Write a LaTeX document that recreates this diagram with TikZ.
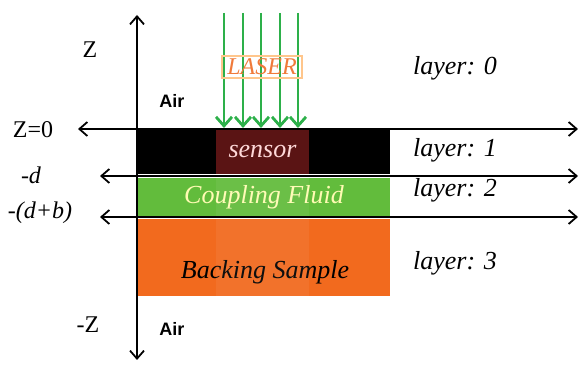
\documentclass[tikz,border=0pt]{standalone}
\usepackage{fontspec}
\setmainfont{Liberation Serif}
\setsansfont{Liberation Sans}
\usetikzlibrary{arrows.meta,positioning}
\definecolor{sensorred}{HTML}{5A1414}
\definecolor{fluidgreen}{HTML}{62BC3C}
\definecolor{backorange}{HTML}{F26A1E}
\definecolor{laseror}{HTML}{F07A3A}
\definecolor{laserbeam}{HTML}{2DB04A}

\begin{document}
\begin{tikzpicture}[x=0.5pt,y=-0.5pt,>={Straight Barb[length=4pt,width=7pt]},
  slab/.style={inner sep=0pt,minimum width=126pt,font=\fontsize{13}{15}\selectfont\itshape},
  axis/.style={line width=0.9pt,<->},
  zlabel/.style={font=\fontsize{12}{14}\selectfont},
  layerlabel/.style={font=\fontsize{13}{15}\selectfont\itshape},
  airlabel/.style={font=\sffamily\bfseries\fontsize{9}{11}\selectfont},
  beam/.style={line width=1.4pt,draw=laserbeam,-{Straight Barb[length=4.5pt,width=8pt]}}]
\useasboundingbox (0,0) rectangle (579,367);

% layers
\node[slab,fill=black,minimum height=22pt] (lay1) at (264,152) {};
\node[slab,fill=fluidgreen,minimum height=19pt,text=yellow!30] (lay2) at (264,197) {Coupling Fluid};
\node[slab,fill=backorange,minimum height=38.5pt] (lay3) at (264,257.5) {};
\node[font=\fontsize{13}{15}\selectfont\itshape] (backtxt) at (265,272) {Backing Sample};
\node[inner sep=0pt,fill=sensorred,minimum width=46.5pt,minimum height=22pt,text=red!15,font=\fontsize{13}{15}\selectfont\itshape] (sensor) at (262.5,152) {sensor};
\fill[white,opacity=0.06] (sensor.south west) rectangle (lay3.south -| sensor.east);

% axes
\coordinate (ztop) at (137,15);
\coordinate (zbot) at (137,360);
\coordinate (z0l) at (78,129);
\coordinate (z0r) at (578,129);
\coordinate (dl) at (100,176);
\coordinate (dr) at (578,176);
\coordinate (dbl) at (100,217);
\coordinate (dbr) at (578,217);
\draw[axis] (ztop) -- (zbot);
\draw[axis] (z0l) -- (z0r);
\draw[axis] (dl) -- (dr);
\draw[axis] (dbl) -- (dbr);

% laser
\foreach \i/\x in {1/224,2/243,3/261,4/280,5/298}{
  \coordinate (b\i top) at (\x,13);
  \coordinate (b\i bot) at (\x,128);
  \draw[beam] (b\i top) -- (b\i bot);
}
\node[draw=orange!45,line width=0.6pt,minimum width=40pt,minimum height=11pt,inner sep=0pt,text=laseror,font=\fontsize{12}{14}\selectfont\itshape] (laser) at (262,67) {LASER};

% labels
\node[zlabel] (zup) at (90,50) {Z};
\node[zlabel] (zzero) at (33,130) {Z=0};
\node[zlabel,font=\fontsize{12}{14}\selectfont\itshape] (dlab) at (31,175) {-d};
\node[zlabel,font=\fontsize{12}{14}\selectfont\itshape] (dblab) at (40,213) {-(d+b)};
\node[zlabel] (zdown) at (88,325) {-Z};
\node[airlabel] (airtop) at (172,101) {Air};
\node[airlabel] (airbot) at (172,329) {Air};
\node[layerlabel] (lab0) at (455,68) {layer: 0};
\node[layerlabel] (lab1) at (455,150) {layer: 1};
\node[layerlabel] (lab2) at (455,190) {layer: 2};
\node[layerlabel] (lab3) at (455,263) {layer: 3};
\end{tikzpicture}
\end{document}
